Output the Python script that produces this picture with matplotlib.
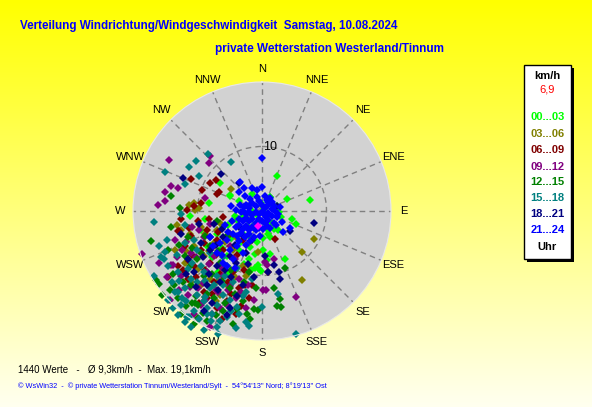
import numpy as np
import matplotlib
matplotlib.use("Agg")
import matplotlib.pyplot as plt
from matplotlib.patches import Rectangle

# wind scatter: each point = (east, north) component in km/h, grouped by 3h band
h00_03 = [(2.3, 5.4), (-1.6, 2.7), (-4.9, 2.4), (1.3, 2.1), (3.8, 1.8), (7.4, 1.7), (2.6, -0.1),
          (4.6, -1.3), (5.3, -2.0), (2.5, -2.9), (3.6, -7.4), (-0.5, -9.0), (-0.2, -9.3), (-1.1, -8.8),
          (-1.7, -9.1), (-8.2, 1.2), (-11.2, -0.7), (1.0, -3.5), (0.9, -2.9), (1.2, -4.0), (0.1, -6.0),
          (-0.6, -8.4), (1.2, -6.6), (2.3, 0.7), (1.2, 2.2), (-5.0, 2.5), (-6.5, 4.3), (-5.2, -2.2),
          (-3.9, -1.4), (-2.4, -2.4), (-1.9, -4.0), (-2.9, -3.5), (-0.8, -4.8), (-1.1, -6.6),
          (-7.0, -3.5), (-6.0, -2.5), (-8.5, -5.5), (-5.5, -7.0), (-3.5, -6.0), (-9.5, -3.0),
          (-4.0, -9.0), (-6.8, -9.5), (-2.0, -7.5), (-3.0, -1.0), (-1.5, 0.0), (0.8, -1.0),
          (1.6, -1.8), (3.0, -1.0), (0.3, 0.3), (-0.8, -0.6), (-4.8, -4.2), (-3.2, -4.8),
          (-6.2, -5.8), (-7.8, -7.2), (-5.2, -9.8), (-2.8, -8.2), (-1.2, -2.2), (0.2, -4.2),
          (1.8, -2.8), (-4.2, -0.8), (-0.2, 1.2), (1.5, 1.0), (-8.8, -1.2), (-3.5, 1.5),
          (0.8, -7.6), (-1.8, -5.6)]
h03_06 = [(8.1, -4.4), (6.2, -6.4), (6.2, -10.7), (-4.8, 3.4), (-10.6, 1.2), (-11.3, 1.0), (-10.4, 0.2),
          (-13.2, -2.1), (-8.8, -13.3), (-9.7, 0.4), (-11.2, -3.5), (-6.5, -1.9), (-7.5, -5.0),
          (-9.0, -7.0), (-6.0, -9.0), (-10.5, -5.5), (-4.5, -6.0), (-8.0, -10.5), (-12.0, -8.0),
          (-5.5, -11.5), (-3.0, -8.5), (-11.0, -11.0), (-7.0, -3.0), (-9.5, -2.5), (-2.5, -10.0),
          (-13.5, -6.0), (-6.5, -13.0), (-4.0, -4.0), (-0.6, -6.4), (-2.1, -8.3), (-8.2, -6.2),
          (-10.0, -9.0), (-6.8, -10.8), (-4.2, -10.2), (-7.2, -14.0), (-9.5, -11.5), (-11.8, -6.2),
          (-5.8, -4.8), (-8.8, -3.5), (-3.5, -12.8), (-12.5, -3.0), (-2.0, -5.0)]
h06_09 = [(-11.0, 4.9), (-8.0, 4.4), (-7.2, 4.8), (-9.3, 3.3), (-6.9, 2.7), (-6.6, 2.9), (-9.5, 1.3),
          (-11.7, 0.2), (-12.9, -3.1), (-11.3, -2.7), (-14.5, -10.3), (-11.3, -7.7), (2.0, -4.3),
          (0.9, -9.4), (-2.6, -11.5), (-1.6, -11.5), (-8.5, -3.0), (-7.0, -4.5), (-9.5, -6.0),
          (-6.0, -6.0), (-5.0, -3.5), (-10.5, -8.5), (-8.0, -8.0), (-4.5, -9.5), (-7.5, -11.0),
          (-3.5, -12.0), (-12.0, -5.5), (-10.0, -1.5), (-6.0, -1.0), (-3.0, -4.5), (-9.0, -12.5),
          (-5.5, -14.0), (-13.0, -8.5), (-2.0, -13.5), (-11.5, -10.5), (-7.0, -15.0), (-4.0, -16.0),
          (-8.5, -13.5), (-13.0, -3.1), (-9.0, -5.0), (-10.8, -6.8), (-7.2, -6.8), (-8.8, -9.2),
          (-6.5, -9.8), (-10.2, -10.2), (-5.2, -11.0), (-7.8, -12.8), (-9.8, -14.2), (-4.8, -12.8),
          (-12.2, -9.2), (-11.0, -3.8), (-6.8, -3.2), (-3.8, -6.8), (-2.8, -9.2), (-8.2, -1.2),
          (-10.5, 0.8), (-12.5, -1.2), (-6.2, -16.8), (-3.2, -14.8)]
h09_12 = [(-14.4, 7.9), (-8.1, 8.6), (-8.2, 7.4), (-14.1, 3.9), (-13.0, 3.5), (-15.1, 1.6), (-16.1, 1.0),
          (-8.9, 2.0), (-18.6, -6.6), (-14.1, -8.4), (-14.2, -13.8), (1.8, -7.4), (0.6, -12.2),
          (5.2, -13.3), (-15.0, 3.0), (-12.4, -6.0), (-5.2, -12.2), (-5.0, -11.7), (0.2, -12.2),
          (0.5, -7.9), (-9.0, -4.0), (-11.0, -6.5), (-7.5, -7.0), (-6.0, -10.0), (-12.5, -10.0),
          (-8.5, -9.5), (-10.0, -12.0), (-5.0, -5.5), (-3.5, -10.5), (-13.5, -4.5), (-6.8, -12.5),
          (-9.5, -14.5), (-11.5, -13.0), (-7.8, -16.0), (-2.5, -15.0), (-4.0, -13.5), (-16.0, -8.0),
          (-8.0, -2.0), (-10.8, -2.5), (0.7, -8.4), (-13.8, -8.4), (-10.2, -7.2), (-8.2, -8.2),
          (-6.2, -8.8), (-9.2, -11.2), (-7.2, -12.2), (-11.2, -11.8), (-5.2, -14.8), (-8.8, -13.8),
          (-12.8, -12.2), (-3.2, -12.5), (-6.5, -15.0), (-10.5, -16.0), (-13.2, -7.2), (-11.8, -4.8),
          (-4.2, -7.5), (-2.2, -11.5), (-9.8, -3.0), (-14.8, -10.2), (-7.8, -5.8), (-8.0, -18.0),
          (-1.2, -13.8)]
h12_15 = [(-14.1, 2.3), (-12.7, 0.4), (-14.1, -2.5), (-17.2, -4.7), (-16.4, -10.7), (-15.9, -11.3),
          (-13.6, -11.4), (-10.9, -14.2), (-10.4, -14.3), (-9.9, -14.5), (-9.9, -16.6), (3.6, -8.9),
          (1.9, -12.0), (2.8, -13.6), (2.3, -14.7), (2.9, -14.9), (-0.6, -15.3), (-1.3, -15.2),
          (-2.4, -16.0), (-8.0, -5.5), (-10.0, -7.5), (-6.5, -8.0), (-12.0, -7.0), (-9.0, -10.0),
          (-5.0, -12.0), (-7.5, -13.5), (-11.0, -11.5), (-3.0, -14.0), (-13.0, -13.5), (-6.0, -15.5),
          (-8.5, -17.0), (-4.5, -17.5), (-11.5, -4.0), (-14.5, -6.0), (-1.0, -12.0), (-2.0, -9.5),
          (-5.5, -3.8), (-7.0, -1.5), (-15.5, -13.0), (-12.5, -16.0), (-9.5, -6.5), (-11.2, -8.5),
          (-7.8, -9.8), (-6.2, -10.8), (-8.5, -12.8), (-10.2, -13.2), (-12.2, -11.0), (-4.2, -12.8),
          (-5.8, -14.2), (-7.2, -16.2), (-9.2, -15.8), (-3.8, -15.2), (-11.8, -14.8), (-13.8, -9.8),
          (-14.2, -12.2), (-2.8, -11.0), (-6.8, -6.2), (-8.8, -3.8), (-10.8, -5.8), (-12.8, -5.2),
          (-4.8, -9.2), (-1.8, -16.8), (-10.6, -17.5)]
h15_18 = [(-10.3, 7.8), (-15.0, 6.0), (-11.3, 6.8), (-8.4, 8.9), (-9.7, 5.4), (-11.9, 4.2), (-12.6, -0.4),
          (-16.8, -1.7), (-12.0, -2.1), (-4.8, 7.6), (-15.1, -6.3), (-15.7, -7.2), (-15.2, -7.5),
          (-16.8, -10.1), (-13.0, -12.6), (-12.4, -13.5), (-13.0, -16.2), (-11.3, -16.4), (-8.6, -16.0),
          (-7.8, -15.9), (-7.9, -17.1), (-8.8, -13.3), (2.5, -12.9), (0.0, -14.9), (-2.5, -17.2),
          (5.2, -19.0), (-11.7, -16.4), (-5.5, -16.4), (-3.8, -14.9), (-9.5, -8.5), (-11.5, -9.0),
          (-7.0, -10.0), (-13.0, -9.5), (-10.0, -11.0), (-8.0, -12.0), (-6.0, -13.0), (-12.0, -12.0),
          (-14.0, -11.0), (-9.0, -14.0), (-4.5, -11.0), (-10.5, -15.5), (-6.5, -17.0), (-3.5, -16.0),
          (-12.5, -14.5), (-8.0, -6.5), (-10.5, -4.5), (-5.5, -8.5), (-14.5, -8.5), (-7.0, -18.0),
          (-13.8, -15.0), (-2.5, -12.5), (-1.5, -10.5), (-11.0, -18.0), (-9.0, -18.5), (-4.0, -18.2),
          (-12.0, -5.0), (-10.0, -6.0), (-9.0, -9.5), (-11.0, -10.5), (-7.5, -11.5), (-6.0, -11.5),
          (-5.0, -13.8), (-10.0, -13.0), (-8.5, -15.0), (-11.8, -14.0), (-13.5, -12.5), (-12.8, -10.8),
          (-7.0, -14.5), (-4.8, -15.5), (-3.0, -13.2), (-9.8, -16.8), (-6.0, -7.2), (-8.8, -10.8),
          (-10.8, -8.0), (-14.8, -4.5), (-13.2, -6.8), (-16.0, -5.5), (-2.0, -17.8), (-6.8, -19.0),
          (-12.0, -17.2), (-14.6, -13.8), (-5.8, -10.0), (-3.8, -8.8)]
h18_21 = [(-12.2, 5.1), (-6.3, 5.7), (-3.6, 4.4), (2.3, 0.7), (8.1, -1.9), (4.4, -3.1), (2.7, -9.4),
          (2.8, -10.6), (1.8, -8.3), (0.9, -9.4), (-6.0, -4.0), (-8.0, -6.0), (-5.0, -7.0), (-9.5, -5.0),
          (-7.0, -8.5), (-4.0, -8.0), (-10.5, -9.5), (-6.5, -11.0), (-3.0, -11.5), (-8.5, -11.5),
          (-11.5, -7.5), (-2.5, -6.5), (-12.5, -3.5), (-5.0, -15.0), (-1.5, -4.5), (-3.5, -2.5),
          (-7.5, -2.0), (-9.0, -15.5), (0.5, -7.0), (-7.2, -5.2), (-9.2, -7.2), (-5.8, -9.2),
          (-8.2, -9.8), (-6.8, -12.2), (-4.8, -10.2), (-10.2, -11.8), (-3.8, -13.2), (-7.8, -14.2),
          (-11.8, -9.8), (-2.2, -8.2), (-4.2, -5.2), (-6.2, -2.8), (-9.8, -2.0), (-1.2, -10.2),
          (-5.5, -16.2), (-8.0, -4.0), (-3.0, -3.8)]
h21_24 = [(0.0, 8.2), (-3.5, 3.0), (-2.6, 2.3), (-0.7, 3.3), (0.0, 3.7), (0.9, 1.4), (3.3, -3.3),
          (-3.4, 4.5), (-2.8, 3.5), (-1.6, 3.5), (-4.8, 0.7), (-3.4, 0.9), (-2.1, 0.7), (0.7, 1.7),
          (1.8, 0.7), (2.3, -0.9), (3.1, -1.7), (1.8, -1.9), (4.3, -2.7),
          (-2.5, 1.0), (-2.0, 0.5), (-1.5, 1.2), (-1.0, 0.8), (-0.5, 1.5), (0.0, 1.0), (0.5, 0.5),
          (1.0, 0.9), (1.5, 0.3), (2.0, 0.0), (-3.0, 0.0), (-2.5, -0.5), (-2.0, -0.2), (-1.5, -0.6),
          (-1.0, -0.1), (-0.5, -0.4), (0.0, -0.2), (0.5, -0.6), (1.0, -0.3), (1.5, -0.8),
          (-3.5, -1.2), (-3.0, -1.5), (-2.5, -1.1), (-2.0, -1.6), (-1.5, -1.3), (-1.0, -1.8),
          (-0.5, -1.2), (0.0, -1.6), (0.5, -1.9), (1.0, -1.4), (-4.0, -2.5), (-3.5, -2.2),
          (-3.0, -2.8), (-2.5, -2.3), (-2.0, -2.9), (-1.5, -2.5), (-1.0, -3.0), (-0.5, -2.6),
          (0.2, -2.8), (0.8, -2.3), (-4.5, -3.5), (-3.8, -3.8), (-3.2, -3.4), (-2.6, -4.0),
          (-2.0, -3.6), (-1.2, -4.0), (-0.3, -3.8), (2.5, -0.4), (2.8, 0.6), (1.2, 2.0),
          (-5.5, -4.5), (-6.5, -5.0), (-5.0, -6.0), (-7.0, -6.5), (-4.5, -7.5), (-6.0, -8.0),
          (-8.0, -4.0), (-3.8, -5.5), (-3.0, -6.5), (-5.2, -3.2), (-4.2, -8.8), (-2.5, -5.2),
          (-3.2, -0.2), (-2.8, 0.6), (-1.8, 1.8), (-0.8, 2.2), (0.4, 2.4), (0.6, -1.0), (1.2, -2.6),
          (-0.8, -2.0), (-1.8, -4.6), (-3.6, -4.6), (-4.6, -1.6), (-5.8, -2.2), (-4.0, 0.2),
          (2.2, -2.2), (1.6, 1.4), (-6.2, -6.8), (-5.4, -8.6), (-7.6, -5.4)]
current_pt = (-0.6, -2.3)

bands = [h00_03, h03_06, h06_09, h09_12, h12_15, h15_18, h18_21, h21_24]
band_labels = ["00...03", "03...06", "06...09", "09...12", "12...15", "15...18", "18...21", "21...24"]
band_colors = ["#00ff00", "#808000", "#800000", "#800080", "#008000", "#008080", "#000080", "#0000ff"]
directions = ["N", "NNE", "NE", "ENE", "E", "ESE", "SE", "SSE",
              "S", "SSW", "SW", "WSW", "W", "WNW", "NW", "NNW"]

W, H = 592, 407
fig = plt.figure(figsize=(W / 100, H / 100), dpi=100)

# yellow -> pale background gradient
bg = fig.add_axes([0, 0, 1, 1], zorder=-10)
grad = np.linspace(0, 1, 256)
img = np.ones((256, 1, 3))
img[:, 0, 2] = 0.94 * grad
bg.imshow(img, aspect="auto", extent=[0, 1, 0, 1], origin="upper")
bg.axis("off")

cx, cy, rad = 262, 211, 129
ax = fig.add_axes([(cx - rad) / W, (H - cy - rad) / H, 2 * rad / W, 2 * rad / H], projection="polar")
ax.set_facecolor("#d2d2d2")
ax.set_theta_zero_location("N")
ax.set_theta_direction(-1)

for pts, col in zip(bands, band_colors):
    a = np.array(pts)
    th = np.arctan2(a[:, 0], a[:, 1])
    r = np.hypot(a[:, 0], a[:, 1])
    ax.plot(th, r, linestyle="none", marker="D", markersize=4.0, color=col,
            markeredgewidth=0, clip_on=False)
ax.plot(np.arctan2(current_pt[0], current_pt[1]), np.hypot(*current_pt), marker="D",
        markersize=4.0, color="#ff00ff", markeredgewidth=0)

ax.set_ylim(0, 20)
ax.set_yticks([10])
ax.set_yticklabels([])
ax.text(np.deg2rad(7), 10, "10", fontsize=9, family="Liberation Sans", ha="center", va="center")
ax.set_xticks(np.deg2rad(np.arange(0, 360, 22.5)))
ax.set_xticklabels(directions, fontsize=8, family="Liberation Sans")
ax.tick_params(axis="x", pad=-1)
ax.grid(True, color="#808080", linestyle=(0, (4, 3)), linewidth=1)
ax.spines["polar"].set_color("#e8e8e8")

fig.text(20 / W, 1 - 26 / H, "Verteilung Windrichtung/Windgeschwindigkeit  Samstag, 10.08.2024",
         color="#0000ff", fontsize=8.4, fontweight="bold", family="Liberation Sans",
         va="center", ha="left")
fig.text(215 / W, 1 - 49 / H, "private Wetterstation Westerland/Tinnum",
         color="#0000ff", fontsize=8.5, fontweight="bold", family="Liberation Sans",
         va="center", ha="left")

# legend box with shadow
fig.patches.append(Rectangle((527 / W, 1 - 262 / H), 47 / W, 194 / H, transform=fig.transFigure,
                             facecolor="black", edgecolor="none", zorder=1))
fig.patches.append(Rectangle((524 / W, 1 - 259 / H), 47 / W, 194 / H, transform=fig.transFigure,
                             facecolor="white", edgecolor="black", linewidth=1, zorder=2))
lx = 547.5 / W
fig.text(lx, 1 - 75.7 / H, "km/h", fontsize=8, fontweight="bold", ha="center", va="center",
         family="Liberation Sans", zorder=3)
fig.text(lx, 1 - 89.3 / H, "6,9", fontsize=8, color="#ff0000", ha="center", va="center",
         family="Liberation Sans", zorder=3)
legend_y = [117.3, 134, 150, 166.7, 182.3, 198.3, 214.3, 230]
for lab, col, yy in zip(band_labels, band_colors, legend_y):
    fig.text(lx, 1 - yy / H, lab, fontsize=8, fontweight="bold", color=col, ha="center",
             va="center", family="Liberation Sans", zorder=3)
fig.text(lx, 1 - 246.7 / H, "Uhr", fontsize=8, fontweight="bold", ha="center", va="center",
         family="Liberation Sans", zorder=3)

fig.text(18 / W, 1 - 369.3 / H, "1440 Werte   -   Ø 9,3km/h  -  Max. 19,1km/h", fontsize=7,
         ha="left", va="center", family="Liberation Sans")
fig.text(18 / W, 1 - 386 / H,
         "© WsWin32  -  © private Wetterstation Tinnum/Westerland/Sylt  -  54°54'13'' Nord; 8°19'13'' Ost",
         fontsize=5.3, color="#0000ff", ha="left", va="center", family="Liberation Sans")

fig.savefig("out.png", dpi=100)
